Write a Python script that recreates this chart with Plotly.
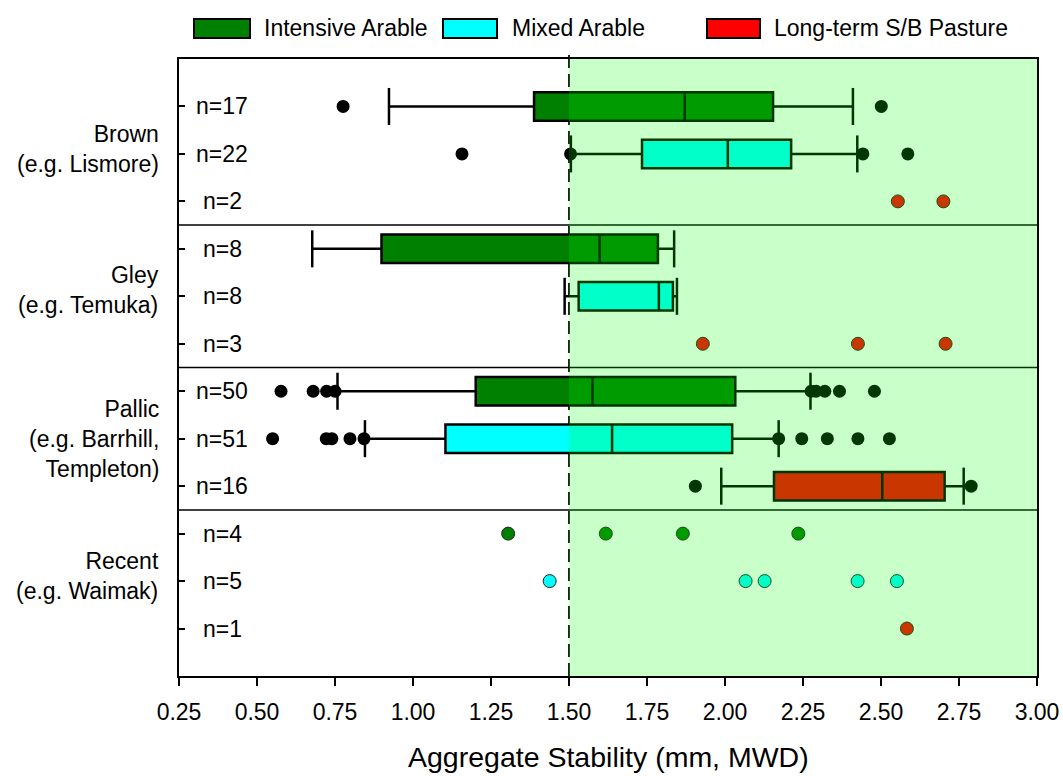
import plotly.graph_objects as go

# ---------------- data ----------------
row_labels = ["n=17", "n=22", "n=2", "n=8", "n=8", "n=3",
              "n=50", "n=51", "n=16", "n=4", "n=5", "n=1"]
row_pos = [1, 2, 3, 4, 5, 6, 7, 8, 9, 10, 11, 12]

groups = ["Brown<br>(e.g. Lismore)", "Gley<br>(e.g. Temuka)",
          "Pallic<br>(e.g. Barrhill,<br>Templeton)", "Recent<br>(e.g. Waimak)"]
group_pos = [1.9, 4.87, 8.0, 10.9]
separators = [3.5, 6.5, 9.5]

land_names = ["Intensive Arable", "Mixed Arable", "Long-term S/B Pasture"]
land_colors = ["#008000", "#00ffff", "#ff0000"]

# box statistics per land use: positions, whisker low, q1, median, q3, whisker high
ia_pos = [1, 4, 7]
ia_low = [0.923, 0.677, 0.758]
ia_q1 = [1.388, 0.899, 1.201]
ia_med = [1.871, 1.598, 1.575]
ia_q3 = [2.154, 1.785, 2.033]
ia_high = [2.410, 1.837, 2.274]

ma_pos = [2, 5, 8]
ma_low = [1.506, 1.486, 0.846]
ma_q1 = [1.734, 1.531, 1.104]
ma_med = [2.009, 1.788, 1.638]
ma_q3 = [2.212, 1.833, 2.023]
ma_high = [2.424, 1.846, 2.172]

lt_pos = [9]
lt_low = [1.988]
lt_q1 = [2.157]
lt_med = [2.504]
lt_q3 = [2.704]
lt_high = [2.765]

# outliers (black dots)
out_row1 = [0.776, 2.501]
out_row2 = [1.157, 1.505, 2.442, 2.586]
out_row7 = [0.577, 0.680, 0.723, 0.750, 2.276, 2.292, 2.320, 2.367, 2.479]
out_row8 = [0.550, 0.722, 0.740, 0.798, 0.843, 2.172, 2.246, 2.328, 2.426, 2.527]
out_row9 = [1.905, 2.789]

# individual values for small samples
pts_row3_lt = [2.554, 2.700]
pts_row6_lt = [1.929, 2.426, 2.707]
pts_row10_ia = [1.305, 1.618, 1.865, 2.235]
pts_row11_ma = [1.438, 2.066, 2.127, 2.425, 2.551]
pts_row12_lt = [2.583]

x_ticks = [0.25, 0.5, 0.75, 1.0, 1.25, 1.5, 1.75, 2.0, 2.25, 2.5, 2.75, 3.0]
threshold = 1.5

# ---------------- layout constants ----------------
W, H = 1063, 776
ML, MR, MT, MB = 179, 26, 59, 100
PW, PH = W - ML - MR, H - MT - MB
FONT = "Liberation Sans, Arial, sans-serif"
BOX_W = 0.6
CAP_H = 0.39


def px_x(p):
    return (p - ML) / PW


def px_y(p):
    return (H - MB - p) / PH


fig = go.Figure()

box_sets = [
    (ia_pos, ia_low, ia_q1, ia_med, ia_q3, ia_high, land_colors[0]),
    (ma_pos, ma_low, ma_q1, ma_med, ma_q3, ma_high, land_colors[1]),
    (lt_pos, lt_low, lt_q1, lt_med, lt_q3, lt_high, land_colors[2]),
]
for pos, lo, q1, med, q3, hi, col in box_sets:
    fig.add_trace(go.Box(
        y=pos, q1=q1, median=med, q3=q3, lowerfence=lo, upperfence=hi,
        orientation="h", width=BOX_W, boxpoints=False, whiskerwidth=0,
        fillcolor=col, line=dict(color="black", width=2.5),
        showlegend=False, hoverinfo="skip"))
    # whisker caps
    cx, cy = [], []
    for p, a, b in zip(pos, lo, hi):
        for v in (a, b):
            cx += [v, v, None]
            cy += [p - CAP_H, p + CAP_H, None]
    fig.add_trace(go.Scatter(x=cx, y=cy, mode="lines",
                             line=dict(color="black", width=2.5),
                             showlegend=False, hoverinfo="skip"))

# outliers
for vals, p in [(out_row1, 1), (out_row2, 2), (out_row7, 7), (out_row8, 8), (out_row9, 9)]:
    fig.add_trace(go.Scatter(x=vals, y=[p] * len(vals), mode="markers",
                             marker=dict(color="black", size=13, line=dict(width=0)),
                             showlegend=False, hoverinfo="skip"))

# individual points
for vals, p, col in [(pts_row3_lt, 3, land_colors[2]), (pts_row6_lt, 6, land_colors[2]),
                     (pts_row10_ia, 10, land_colors[0]), (pts_row11_ma, 11, land_colors[1]),
                     (pts_row12_lt, 12, land_colors[2])]:
    fig.add_trace(go.Scatter(x=vals, y=[p] * len(vals), mode="markers",
                             marker=dict(color=col, size=13, line=dict(color="#222", width=1)),
                             showlegend=False, hoverinfo="skip"))

shapes = []
# dashed threshold line
shapes.append(dict(type="line", xref="x", yref="paper", x0=threshold, x1=threshold,
                   y0=0, y1=1.015, line=dict(color="#222", width=2, dash="13px,6px"),
                   layer="below"))
# separators
for s in separators:
    shapes.append(dict(type="line", xref="paper", yref="y", x0=0, x1=1, y0=s, y1=s,
                       line=dict(color="black", width=1.5), layer="below"))
# green stable zone overlay
shapes.append(dict(type="rect", xref="x", yref="paper", x0=threshold, x1=x_ticks[-1],
                   y0=0, y1=1, fillcolor="rgba(0,255,0,0.21)", line=dict(width=0),
                   layer="above"))

annotations = []
for lab, p in zip(row_labels, row_pos):
    annotations.append(dict(text=lab, x=px_x(222), xref="paper", y=p, yref="y",
                            xanchor="center", yanchor="middle", showarrow=False,
                            font=dict(family=FONT, size=23, color="black")))
for g, p in zip(groups, group_pos):
    annotations.append(dict(text=g, x=px_x(161), xref="paper", y=p, yref="y",
                            xanchor="right", yanchor="middle", align="right",
                            showarrow=False,
                            font=dict(family=FONT, size=23, color="black")))

# manual legend
leg_boxes = [(194, 250, 262), (443, 497, 510), (707, 760, 772)]
for (bx0, bx1, tx), name, col in zip(leg_boxes, land_names, land_colors):
    shapes.append(dict(type="rect", xref="paper", yref="paper",
                       x0=px_x(bx0), x1=px_x(bx1), y0=px_y(38), y1=px_y(19),
                       fillcolor=col, line=dict(color="black", width=2)))
    annotations.append(dict(text=name, x=px_x(tx), xref="paper", y=px_y(28), yref="paper",
                            xanchor="left", yanchor="middle", showarrow=False,
                            font=dict(family=FONT, size=23, color="black")))

# x-axis title
annotations.append(dict(text="Aggregate Stability (mm, MWD)", x=0.5, xref="paper",
                        y=px_y(757), yref="paper", xanchor="center", yanchor="middle",
                        showarrow=False, font=dict(family=FONT, size=28.5, color="black")))

fig.update_layout(
    width=W, height=H, margin=dict(l=ML, r=MR, t=MT, b=MB, autoexpand=False),
    paper_bgcolor="white", plot_bgcolor="white", boxmode="overlay",
    showlegend=False, shapes=shapes, annotations=annotations,
    font=dict(family=FONT, color="black"),
)
fig.update_xaxes(range=[x_ticks[0], x_ticks[-1]], tickvals=x_ticks,
                 ticktext=[f"{v:.2f}" for v in x_ticks],
                 ticks="outside", ticklen=8, tickwidth=1.5, tickcolor="black",
                 ticklabelstandoff=7, automargin=False,
                 showline=True, linecolor="black", linewidth=1.5, mirror=True,
                 showgrid=False, zeroline=False,
                 tickfont=dict(family=FONT, size=23, color="black"))
fig.update_yaxes(range=[13, 0], tickvals=row_pos, showticklabels=False, automargin=False,
                 ticks="inside", ticklen=6, tickwidth=1.5, tickcolor="black",
                 showline=True, linecolor="black", linewidth=1.5, mirror=True,
                 showgrid=False, zeroline=False)

fig.write_html("out.html", config={"displayModeBar": False},
               post_script="document.body.style.margin='0';")
